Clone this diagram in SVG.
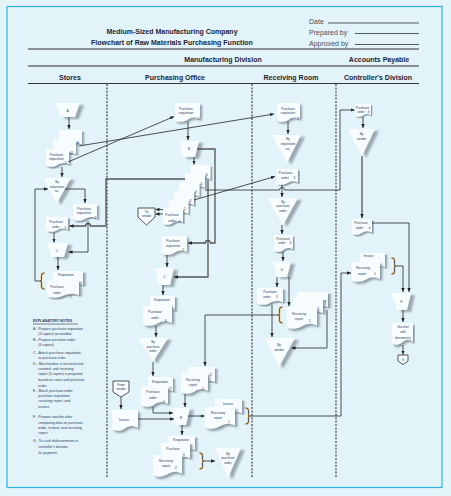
<svg xmlns="http://www.w3.org/2000/svg" xmlns:xlink="http://www.w3.org/1999/xlink" width="451" height="496" viewBox="0 0 451 496">
<defs>
<style>
text{font-family:"Liberation Sans",Arial,sans-serif}
.t{font-size:3.2px;fill:#2b3a56;text-anchor:middle}
.hd{font-size:7px;font-weight:bold;fill:#1e2535;text-anchor:middle}
.meta{font-size:7px;fill:#4a4f58}
.note{font-size:3.5px;fill:#2b3a56}
.doc{fill:#f7fcfe;filter:url(#sh)}
.op{fill:#f7fcfe;filter:url(#shT)}
.pent{fill:#f7fcfe;stroke:#2a2a2a;stroke-width:0.8}
.ln{fill:none;stroke:#262626;stroke-width:0.8}
.thk{stroke:#555;stroke-width:1.3}
.ar{marker-end:url(#ah)}
.br{fill:none;stroke-linecap:round}
</style>
<filter id="sh" x="-20%" y="-20%" width="150%" height="150%">
<feDropShadow dx="1.6" dy="1.6" stdDeviation="0.7" flood-color="#7d8a92" flood-opacity="0.85"/>
</filter>
<filter id="shT" x="-20%" y="-20%" width="160%" height="150%">
<feDropShadow dx="4" dy="2" stdDeviation="1" flood-color="#8a969d" flood-opacity="0.8"/>
</filter>
<marker id="ah" markerUnits="userSpaceOnUse" markerWidth="4" markerHeight="3.4" refX="4" refY="1.7" orient="auto">
<path d="M0,0L4,1.7L0,3.4Z" fill="#222"/>
</marker>
<path id="doc" d="M0,0H20V13.5C16,11.5 13,12 10,14C7,16 3,16.5 0,14.5Z"/>
<g id="lbr"><path d="M4,0Q1.5,0 1.5,2.5V6.5Q1.5,8 0,8Q1.5,8 1.5,9.5V13.5Q1.5,16 4,16" stroke="#f2a530" stroke-width="1.6" class="br"/><path d="M4,0Q1.5,0 1.5,2.5V6.5Q1.5,8 0,8Q1.5,8 1.5,9.5V13.5Q1.5,16 4,16" stroke="#1f3566" stroke-width="0.7" class="br"/></g>
<g id="rbr"><path d="M0,0Q2.5,0 2.5,2.5V6.5Q2.5,8 4,8Q2.5,8 2.5,9.5V13.5Q2.5,16 0,16" stroke="#f2a530" stroke-width="1.6" class="br"/><path d="M0,0Q2.5,0 2.5,2.5V6.5Q2.5,8 4,8Q2.5,8 2.5,9.5V13.5Q2.5,16 0,16" stroke="#1f3566" stroke-width="0.7" class="br"/></g>
</defs>

<rect x="0" y="0" width="451" height="496" fill="#e4f4fb"/>
<rect x="7" y="6.5" width="435" height="481" fill="#e2f3fa" stroke="#2bb3e6" stroke-width="1.2"/>

<g id="header">
<text x="172" y="33.5" class="hd">Medium-Sized Manufacturing Company</text>
<text x="172" y="44.5" class="hd">Flowchart of Raw Materials Purchasing Function</text>
<text x="309" y="24" class="meta">Date</text>
<text x="309" y="35" class="meta">Prepared by</text>
<text x="309" y="46" class="meta">Approved by</text>
<path d="M328,23H419M355,33.5H419M355,44.5H419" stroke="#333" stroke-width="0.8"/>
<path d="M28,49H419" stroke="#333" stroke-width="1.2"/>
<text x="223" y="62" class="hd">Manufacturing Division</text>
<text x="379" y="62" class="hd">Accounts Payable</text>
<path d="M28,66H419" stroke="#8a8f95" stroke-width="2"/>
<text x="70" y="80" class="hd">Stores</text>
<text x="175" y="80" class="hd">Purchasing Office</text>
<text x="291" y="80" class="hd">Receiving Room</text>
<text x="378" y="80" class="hd">Controller's Division</text>
<path d="M28,83.5H419" stroke="#333" stroke-width="1"/>
<path d="M107,84V477M252,84V477M336,84V477" stroke="#333" stroke-width="1.1" stroke-dasharray="2,1.4"/>
</g>

<g id="notes">
<text x="33" y="322.3" class="note" font-weight="bold" font-size="3.6">EXPLANATORY NOTES</text>
<path d="M33,324H78" stroke="#333" stroke-width="0.6"/>
<text class="note">
<tspan x="33" y="329.5">A - Prepare purchase requisition</tspan>
<tspan x="38.3" y="335.2">(3 copies) as needed.</tspan>
<tspan x="33" y="340.5">B - Prepare purchase order</tspan>
<tspan x="38.3" y="345.5">(6 copies).</tspan>
<tspan x="33" y="353.5">C - Attach purchase requisition</tspan>
<tspan x="38.3" y="358.9">to purchase order.</tspan>
<tspan x="33" y="364.5">D - Merchandise is received and</tspan>
<tspan x="38.3" y="369.5">counted, and receiving</tspan>
<tspan x="38.3" y="375.2">report (3 copies) is prepared</tspan>
<tspan x="38.3" y="381.2">based on count and purchase</tspan>
<tspan x="38.3" y="386.9">order.</tspan>
<tspan x="33" y="391.9">E - Match purchase order,</tspan>
<tspan x="38.3" y="397.2">purchase requisition,</tspan>
<tspan x="38.3" y="402.2">receiving report, and</tspan>
<tspan x="38.3" y="407.9">invoice.</tspan>
<tspan x="33" y="417.9">F - Prepare voucher after</tspan>
<tspan x="38.3" y="423.5">comparing data on purchase</tspan>
<tspan x="38.3" y="428.5">order, invoice, and receiving</tspan>
<tspan x="38.3" y="433.9">report.</tspan>
<tspan x="33" y="442.2">G - To cash disbursements in</tspan>
<tspan x="38.3" y="447.9">controller's division</tspan>
<tspan x="38.3" y="453.9">for payment.</tspan>
</text>
</g>

<!-- STORES -->
<g id="s_A">
<polygon points="55,103 80,103 75,117 61,117" class="op"/>
<text x="67.5" y="112" class="t">A</text>
</g>
<g id="s_reqStack">
<use href="#doc" class="doc" transform="translate(59 130) scale(1.15 1.0625)"/>
<text x="78" y="144" class="t">3</text>
<use href="#doc" class="doc" transform="translate(53 140) scale(1.15 1.0625)"/>
<text x="72" y="153.5" class="t">2</text>
<use href="#doc" class="doc" transform="translate(46 150) scale(1.15 1.0625)"/>
<text x="56.5" y="155.5" class="t">Purchase</text>
<text x="56.5" y="159.6" class="t">requisition</text>
<text x="66" y="164" class="t">1</text>
</g>
<g id="s_fileReq">
<polygon points="43,178 71,178 57,203" class="op"/>
<text x="57" y="183" class="t">By</text>
<text x="57" y="187.5" class="t">requisition</text>
<text x="57" y="192" class="t">no.</text>
</g>
<g id="s_req2">
<use href="#doc" class="doc" transform="translate(73 204) scale(1.2 1.0625)"/>
<text x="84" y="209.5" class="t">Purchase</text>
<text x="84" y="214" class="t">requisition</text>
<text x="95.5" y="219" class="t">2</text>
</g>
<g id="s_po5">
<use href="#doc" class="doc" transform="translate(46 217) scale(1.1 0.9375)"/>
<text x="56" y="222.5" class="t">Purchase</text>
<text x="56" y="228.3" class="t">order</text>
<text x="65.5" y="229" class="t">5</text>
</g>
<g id="s_C">
<polygon points="47,243 68,243 64,257 51,257" class="op"/>
<text x="57" y="252" class="t">C</text>
</g>
<g id="s_stapled">
<use href="#doc" class="doc" transform="translate(53 271) scale(1.5 1.0625)"/>
<text x="66" y="276" class="t">Requisition</text>
<text x="78" y="284" class="t">2</text>
<use href="#doc" class="doc" transform="translate(47 280) scale(1.6 1.125)"/>
<text x="57" y="288" class="t">Purchase</text>
<text x="57" y="293.5" class="t">order</text>
<text x="71" y="298" class="t">5</text>
<use href="#lbr" transform="translate(40 273)"/>
</g>

<!-- PURCHASING -->
<g id="p_req1">
<use href="#doc" class="doc" transform="translate(175 103) scale(1.25 1.1875)"/>
<text x="186" y="109.5" class="t">Purchase</text>
<text x="186" y="114" class="t">requisition</text>
<text x="199" y="119.5" class="t">1</text>
</g>
<g id="p_B">
<polygon points="179,141 199,141 195,157 183,157" class="op"/>
<text x="189" y="149.5" class="t">B</text>
</g>
<g id="p_poStack">
<use href="#doc" class="doc" transform="translate(190.5 165) scale(1 1.0625)"/>
<text x="207" y="176" class="t">6</text>
<use href="#doc" class="doc" transform="translate(185 173.6) scale(1 1.0625)"/>
<text x="201.5" y="184.6" class="t">5</text>
<use href="#doc" class="doc" transform="translate(179.5 182.2) scale(1 1.0625)"/>
<text x="196" y="193.2" class="t">4</text>
<use href="#doc" class="doc" transform="translate(174 190.8) scale(1 1.0625)"/>
<text x="190.5" y="201.8" class="t">3</text>
<use href="#doc" class="doc" transform="translate(168.5 199.4) scale(1 1.0625)"/>
<text x="185" y="210.4" class="t">2</text>
<use href="#doc" class="doc" transform="translate(163 208) scale(1 1.0625)"/>
<text x="172" y="216" class="t">Purchase</text>
<text x="172" y="221.5" class="t">order</text>
<text x="180" y="223" class="t">1</text>
</g>
<g id="p_toVendor">
<polygon points="138,208 155,208 155,217 146.5,225 138,217" class="pent"/>
<text x="146.5" y="212.6" class="t">To</text>
<text x="146.5" y="216.8" class="t">vendor</text>
</g>
<g id="p_req1b">
<use href="#doc" class="doc" transform="translate(162 236) scale(1.25 1.1875)"/>
<text x="173" y="242" class="t">Purchase</text>
<text x="173" y="246.5" class="t">requisition</text>
<text x="183.5" y="251" class="t">1</text>
</g>
<g id="p_C">
<polygon points="155,268 174,268 170,285 159,285" class="op"/>
<text x="164.5" y="277.5" class="t">C</text>
</g>
<g id="p_stapled">
<use href="#doc" class="doc" transform="translate(150 296) scale(1.25 1.0625)"/>
<text x="162" y="300.8" class="t">Requisition</text>
<text x="172.5" y="308.5" class="t">1</text>
<use href="#doc" class="doc" transform="translate(143 306) scale(1.45 1.25)"/>
<text x="155" y="313" class="t">Purchase</text>
<text x="155" y="318.5" class="t">order</text>
<text x="166" y="322" class="t">6</text>
</g>
<g id="p_filePO">
<polygon points="138,338 168,338 153,362" class="op"/>
<text x="153" y="342.8" class="t">By</text>
<text x="153" y="347.5" class="t">purchase</text>
<text x="153" y="352.3" class="t">order</text>
</g>
<g id="p_stapled2">
<use href="#doc" class="doc" transform="translate(148 377) scale(1.25 1.0625)"/>
<text x="160" y="382.5" class="t">Requisition</text>
<text x="171" y="388.5" class="t">1</text>
<use href="#doc" class="doc" transform="translate(141 386) scale(1.35 1.3125)"/>
<text x="153" y="393" class="t">Purchase</text>
<text x="153" y="398.6" class="t">order</text>
<text x="164" y="402.6" class="t">6</text>
</g>
<g id="p_fromVendor">
<polygon points="113,381 129,381 129,392 121,397 113,392" class="pent"/>
<text x="121" y="385.8" class="t">From</text>
<text x="121" y="390.2" class="t">vendor</text>
</g>
<g id="p_invoice">
<use href="#doc" class="doc" transform="translate(112 410) scale(1.3 1.3125)"/>
<text x="124" y="420.5" class="t">Invoice</text>
</g>
<g id="p_rrStack">
<use href="#doc" class="doc" transform="translate(188 367) scale(1.35 1.125)"/>
<text x="211" y="375.5" class="t">2</text>
<use href="#doc" class="doc" transform="translate(181 373) scale(1.35 1.3125)"/>
<text x="193" y="380.5" class="t">Receiving</text>
<text x="193" y="386" class="t">report</text>
<text x="203" y="390" class="t">1</text>
</g>
<g id="p_E">
<polygon points="172,408 190,408 186,425 176,425" class="op"/>
<text x="181" y="418.5" class="t">E</text>
</g>
<g id="p_stack2">
<use href="#doc" class="doc" transform="translate(215 399) scale(1.35 1.0625)"/>
<text x="228" y="404.5" class="t">Invoice</text>
<use href="#doc" class="doc" transform="translate(205 407) scale(1.5 1.375)"/>
<text x="218" y="414.3" class="t">Receiving</text>
<text x="218" y="419.3" class="t">report</text>
<text x="229" y="423.3" class="t">1</text>
<use href="#rbr" transform="translate(246 408)"/>
</g>
<g id="p_stack3">
<use href="#doc" class="doc" transform="translate(168 436) scale(1.35 1.0625)"/>
<text x="181" y="440.6" class="t">Requisition</text>
<text x="191" y="446.5" class="t">1</text>
<use href="#doc" class="doc" transform="translate(161 443) scale(1.45 1.125)"/>
<text x="173" y="449.5" class="t">Purchase</text>
<text x="184" y="456" class="t">6</text>
<use href="#doc" class="doc" transform="translate(153 455) scale(1.45 1.375)"/>
<text x="166" y="461.5" class="t">Receiving</text>
<text x="166" y="467.3" class="t">report</text>
<text x="176" y="469" class="t">2</text>
<use href="#rbr" transform="translate(200 453)"/>
</g>
<g id="p_filePO2">
<polygon points="215,448 241,448 228,478" class="op"/>
<text x="228" y="454.5" class="t">By</text>
<text x="228" y="459" class="t">purchase</text>
<text x="228" y="464" class="t">order</text>
</g>

<!-- RECEIVING -->
<g id="r_req2">
<use href="#doc" class="doc" transform="translate(277 103) scale(1.15 1.1875)"/>
<text x="288" y="109.5" class="t">Purchase</text>
<text x="288" y="114" class="t">requisition</text>
<text x="298.5" y="119.5" class="t">2</text>
</g>
<g id="r_fileReq">
<polygon points="272,135 301,135 287,163" class="op"/>
<text x="288" y="140" class="t">By</text>
<text x="288" y="144.5" class="t">requisition</text>
<text x="288" y="150.3" class="t">no.</text>
</g>
<g id="r_po3">
<use href="#doc" class="doc" transform="translate(277 169) scale(1.05 1)"/>
<text x="285.5" y="174" class="t">Purchase</text>
<text x="285" y="179" class="t">order</text>
<text x="294.5" y="179" class="t">3</text>
</g>
<g id="r_filePO">
<polygon points="268,198 298,198 283,225" class="op"/>
<text x="283" y="202.5" class="t">By</text>
<text x="283" y="207" class="t">purchase</text>
<text x="283" y="212.3" class="t">order</text>
</g>
<g id="r_po3b">
<use href="#doc" class="doc" transform="translate(274 235) scale(0.95 1.0625)"/>
<text x="283" y="239.5" class="t">Purchase</text>
<text x="282" y="244" class="t">order</text>
<text x="290.5" y="244" class="t">3</text>
</g>
<g id="r_D">
<polygon points="273,262 291,262 287,277 277,277" class="op"/>
<text x="282" y="271" class="t">D</text>
</g>
<g id="r_po3c">
<use href="#doc" class="doc" transform="translate(257 288) scale(1.3 1.0625)"/>
<text x="270" y="293" class="t">Purchase</text>
<text x="267" y="298" class="t">order</text>
<text x="277" y="298" class="t">3</text>
</g>
<g id="r_rrStack">
<use href="#doc" class="doc" transform="translate(297 292) scale(1.55 1.125)"/>
<text x="325.5" y="302.5" class="t">3</text>
<use href="#doc" class="doc" transform="translate(293 298) scale(1.5 1.125)"/>
<text x="318" y="310" class="t">2</text>
<use href="#doc" class="doc" transform="translate(287 307) scale(1.5 1.375)"/>
<text x="299" y="314.8" class="t">Receiving</text>
<text x="299" y="319.8" class="t">report</text>
<text x="310" y="322" class="t">1</text>
<use href="#lbr" transform="translate(278 307)"/>
</g>
<g id="r_fileVendor">
<polygon points="265,338 295,338 279,367" class="op"/>
<text x="279" y="345.8" class="t">By</text>
<text x="279" y="350.6" class="t">vendor</text>
</g>

<!-- ACCOUNTS PAYABLE -->
<g id="a_po">
<use href="#doc" class="doc" transform="translate(355 104) scale(0.8 0.8125)"/>
<text x="362.5" y="108.6" class="t">Purchase</text>
<text x="361" y="112.8" class="t">order</text>
<text x="368.5" y="112.8" class="t">4</text>
</g>
<g id="a_fileVendor">
<polygon points="348,129 375,129 362,156" class="op"/>
<text x="361.5" y="134.8" class="t">By</text>
<text x="361.5" y="140.3" class="t">vendor</text>
</g>
<g id="a_po2">
<use href="#doc" class="doc" transform="translate(352 219) scale(1 1)"/>
<text x="361" y="224.3" class="t">Purchase</text>
<text x="359.5" y="229.3" class="t">order</text>
<text x="369.5" y="229.3" class="t">4</text>
</g>
<g id="a_stack">
<use href="#doc" class="doc" transform="translate(360 253) scale(1.25 1.0625)"/>
<text x="368.5" y="257.3" class="t">Invoice</text>
<use href="#doc" class="doc" transform="translate(352 262) scale(1.4 1.25)"/>
<text x="363" y="268.6" class="t">Receiving</text>
<text x="362" y="274.5" class="t">report</text>
<text x="375" y="274.5" class="t">1</text>
<use href="#rbr" transform="translate(392 258)"/>
</g>
<g id="a_F">
<polygon points="392,293 411,293 407,310 397,310" class="op"/>
<text x="401.5" y="303" class="t">F</text>
</g>
<g id="a_voucher">
<use href="#doc" class="doc" transform="translate(392 323) scale(1.05 1.375)"/>
<text x="403" y="328.3" class="t">Voucher</text>
<text x="403" y="333" class="t">with</text>
<text x="403" y="338.5" class="t">documents</text>
</g>
<g id="a_G">
<polygon points="398,355 408,355 408,361 403,364.5 398,361" class="pent"/>
<text x="403" y="360.8" class="t">G</text>
</g>

<g id="connectors">
<!-- stores -->
<path d="M69,117V129" class="ln ar"/>
<path d="M62,167V177" class="ln ar"/>
<path d="M79,146L274,114" class="ln ar"/>
<path d="M68,162L174,116.5" class="ln ar"/>
<path d="M65,189H85V203" class="ln ar"/>
<path d="M40,281H35V189H48" class="ln ar"/>
<path d="M88,221V252H68.5" class="ln ar"/>
<path d="M185,179H106V226H90.5A2.5,2.5 0 0 0 85.5,226H69.5" class="ln thk ar"/>
<path d="M54,232.5V242.5" class="ln ar"/>
<path d="M58,257V270" class="ln ar"/>
<!-- purchasing -->
<path d="M188,122V140" class="ln ar"/>
<path d="M194,157V164.5" class="ln ar"/>
<path d="M163,209.5H155.5" class="ln ar"/>
<path d="M163,214H155.5" class="ln ar"/>
<path d="M197,149H215V243H210.5A2.5,2.5 0 0 0 205.5,243H188" class="ln thk ar"/>
<path d="M208,180V277H174" class="ln thk ar"/>
<path d="M194,200L275,176.5" class="ln ar"/>
<path d="M205,190H279.5A2.5,2.5 0 0 1 284.5,190H340V110H354.5" class="ln ar"/>
<path d="M167,255V267" class="ln ar"/>
<path d="M163,285V295" class="ln ar"/>
<path d="M156,326V337" class="ln ar"/>
<path d="M153,362V376" class="ln ar"/>
<path d="M153,407V413H173" class="ln ar"/>
<path d="M121,397V409" class="ln ar"/>
<path d="M138,419H174" class="ln ar"/>
<path d="M278,315H205V366" class="ln ar"/>
<path d="M185,394V407" class="ln ar"/>
<path d="M188,416H204.5" class="ln ar"/>
<path d="M250,416H341V273H351" class="ln ar"/>
<path d="M182,425V435" class="ln ar"/>
<path d="M204,461H215" class="ln ar"/>
<!-- receiving -->
<path d="M288,122V134" class="ln ar"/>
<path d="M282,185V197" class="ln ar"/>
<path d="M282,225V234" class="ln ar"/>
<path d="M283,252V261" class="ln ar"/>
<path d="M277,277V287" class="ln ar"/>
<path d="M289,277V306" class="ln ar"/>
<path d="M272,305V337" class="ln ar"/>
<path d="M327,310V348H291.5" class="ln ar"/>
<!-- accounts payable -->
<path d="M363,117V128" class="ln ar"/>
<path d="M362,156V218" class="ln thk ar"/>
<path d="M372,223H409V292" class="ln ar"/>
<path d="M396,266H403V292" class="ln ar"/>
<path d="M403,310V322" class="ln ar"/>
<path d="M403,345V354.5" class="ln ar"/>
</g>
</svg>
